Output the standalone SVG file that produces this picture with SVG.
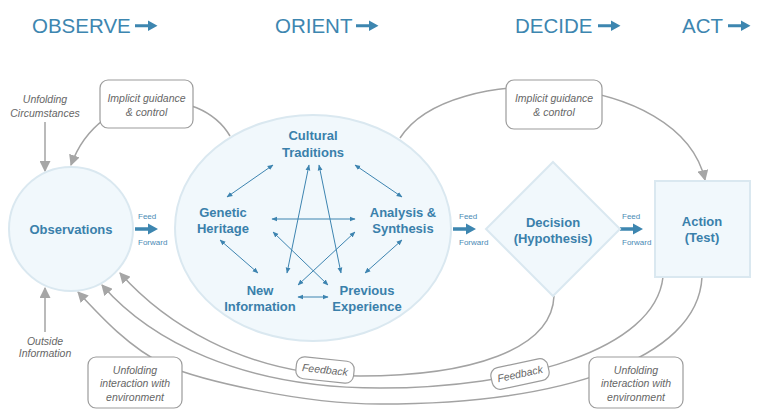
<svg xmlns="http://www.w3.org/2000/svg" width="760" height="412" viewBox="0 0 760 412">
<style>
.hdr{font-family:"Liberation Sans",Arial,sans-serif;font-size:20.5px;fill:#3d86b0;}
.node{font-family:"Liberation Sans",Arial,sans-serif;font-size:13px;font-weight:bold;fill:#3a80ab;text-anchor:middle;}
.lbl{font-family:"Liberation Sans",Arial,sans-serif;font-size:10.5px;font-style:italic;fill:#666;text-anchor:middle;}
.ff{font-family:"Liberation Sans",Arial,sans-serif;font-size:8px;fill:#4a8ab5;}
.shape{fill:#f1f8fc;stroke:#dae8f0;stroke-width:2;}
.gbox{fill:#fff;stroke:#9c9c9c;stroke-width:1.2;}
.gline{fill:none;stroke:#a3a3a3;stroke-width:1.5;}
.bline{fill:none;stroke:#3d84b0;stroke-width:1;}
.barrow{fill:#3d86b0;}
</style>
<defs>
<marker id="ga" viewBox="0 0 10 10" refX="9" refY="5" markerWidth="11" markerHeight="11" markerUnits="userSpaceOnUse" orient="auto">
<path d="M0,0 L10,5 L0,10 z" fill="#a6a6a6"/>
</marker>
<marker id="ba" viewBox="0 0 10 10" refX="9" refY="5" markerWidth="6" markerHeight="6" markerUnits="userSpaceOnUse" orient="auto-start-reverse">
<path d="M0,1 L10,5 L0,9 z" fill="#3d84b0"/>
</marker>
</defs>

<g id="headers">
<text class="hdr" x="32" y="33">OBSERVE</text>
<path class="barrow" d="M135,24.3 H148 V20.5 L157.5,25.7 L148,31 V27.2 H135 z"/>
<text class="hdr" x="275" y="33">ORIENT</text>
<path class="barrow" d="M356,24.3 H369 V20.5 L378.5,25.7 L369,31 V27.2 H356 z"/>
<text class="hdr" x="515" y="33">DECIDE</text>
<path class="barrow" d="M598,24.3 H611 V20.5 L620.5,25.7 L611,31 V27.2 H598 z"/>
<text class="hdr" x="682" y="33">ACT</text>
<path class="barrow" d="M728,24.3 H741 V20.5 L750.5,25.7 L741,31 V27.2 H728 z"/>
</g>

<g id="connectors">
<path class="gline" d="M230,136 C200,85 100,85 71,165" marker-end="url(#ga)"/>
<path class="gline" d="M400,138 C450,60 680,70 705,180" marker-end="url(#ga)"/>
<path class="gline" d="M45,122 L45,171" marker-end="url(#ga)"/>
<path class="gline" d="M45,332 L45,288" marker-end="url(#ga)"/>
<path class="gline" d="M554,296 C552,350 470,376 360,376 C240,376 160,318 120,273" marker-end="url(#ga)"/>
<path class="gline" d="M663,277 C655,350 520,388 380,388 C240,388 150,340 102,285" marker-end="url(#ga)"/>
<path class="gline" d="M702,277 C698,360 560,404 380,404 C300,404 200,380 165,365 C130,348 102,318 78,292" marker-end="url(#ga)"/>
<path class="barrow" d="M135,227.3 H148 V223.5 L158,229 L148,234.5 V230.7 H135 z"/>
<path class="barrow" d="M453,227.3 H466 V223.5 L476,229 L466,234.5 V230.7 H453 z"/>
<path class="barrow" d="M620,227.3 H633 V223.5 L643,229 L633,234.5 V230.7 H620 z"/>
</g>

<g id="observations">
<circle class="shape" cx="71" cy="229" r="62"/>
<text class="node" x="71" y="233.5">Observations</text>
</g>

<g id="orient">
<ellipse class="shape" cx="313" cy="228" rx="138" ry="113"/>
</g>

<g id="orient-links">
<line class="bline" x1="273" y1="165" x2="227" y2="197" marker-start="url(#ba)" marker-end="url(#ba)"/>
<line class="bline" x1="355" y1="165" x2="402" y2="197" marker-start="url(#ba)" marker-end="url(#ba)"/>
<line class="bline" x1="272" y1="219" x2="355" y2="219" marker-start="url(#ba)" marker-end="url(#ba)"/>
<line class="bline" x1="220" y1="240" x2="258" y2="273" marker-start="url(#ba)" marker-end="url(#ba)"/>
<line class="bline" x1="402" y1="240" x2="365" y2="273" marker-start="url(#ba)" marker-end="url(#ba)"/>
<line class="bline" x1="298" y1="297" x2="328" y2="297" marker-start="url(#ba)" marker-end="url(#ba)"/>
<line class="bline" x1="309" y1="165" x2="287" y2="273" marker-start="url(#ba)" marker-end="url(#ba)"/>
<line class="bline" x1="319" y1="165" x2="341" y2="273" marker-start="url(#ba)" marker-end="url(#ba)"/>
<line class="bline" x1="273" y1="232" x2="328" y2="285" marker-start="url(#ba)" marker-end="url(#ba)"/>
<line class="bline" x1="355" y1="232" x2="298" y2="285" marker-start="url(#ba)" marker-end="url(#ba)"/>
</g>

<g id="cultural-traditions">
<text class="node" x="313" y="140">Cultural</text>
<text class="node" x="313" y="157">Traditions</text>
</g>
<g id="genetic-heritage">
<text class="node" x="223" y="217">Genetic</text>
<text class="node" x="223" y="233">Heritage</text>
</g>
<g id="analysis-synthesis">
<text class="node" x="403" y="217">Analysis &amp;</text>
<text class="node" x="403" y="233">Synthesis</text>
</g>
<g id="new-information">
<text class="node" x="260" y="295">New</text>
<text class="node" x="260" y="311">Information</text>
</g>
<g id="previous-experience">
<text class="node" x="367" y="295">Previous</text>
<text class="node" x="367" y="311">Experience</text>
</g>

<g id="decision">
<path class="shape" d="M553,162 L620,229 L553,296 L486,229 z"/>
<text class="node" x="553" y="227">Decision</text>
<text class="node" x="553" y="243">(Hypothesis)</text>
</g>

<g id="action">
<rect class="shape" x="655" y="181" width="95" height="96"/>
<text class="node" x="702" y="226">Action</text>
<text class="node" x="702" y="242">(Test)</text>
</g>

<g id="feed-labels">
<text class="ff" x="138" y="219">Feed</text>
<text class="ff" x="138" y="245">Forward</text>
<text class="ff" x="459" y="219">Feed</text>
<text class="ff" x="459" y="245">Forward</text>
<text class="ff" x="622" y="219">Feed</text>
<text class="ff" x="622" y="245">Forward</text>
</g>

<g id="implicit-guidance-left">
<rect class="gbox" x="100" y="80" width="93" height="48" rx="8"/>
<text class="lbl" x="146.5" y="102">Implicit guidance</text>
<text class="lbl" x="146.5" y="116">&amp; control</text>
</g>
<g id="implicit-guidance-right">
<rect class="gbox" x="506" y="80" width="96" height="49" rx="8"/>
<text class="lbl" x="554" y="102">Implicit guidance</text>
<text class="lbl" x="554" y="116">&amp; control</text>
</g>
<g id="unfolding-circumstances">
<text class="lbl" x="45" y="103">Unfolding</text>
<text class="lbl" x="45" y="117">Circumstances</text>
</g>
<g id="outside-information">
<text class="lbl" x="45" y="345">Outside</text>
<text class="lbl" x="45" y="357">Information</text>
</g>
<g id="feedback-1" transform="rotate(6 325 370)">
<rect class="gbox" x="296" y="359" width="58" height="22" rx="8"/>
<text class="lbl" x="325" y="373.5">Feedback</text>
</g>
<g id="feedback-2" transform="rotate(-12 520 374)">
<rect class="gbox" x="491" y="363" width="58" height="22" rx="8"/>
<text class="lbl" x="520" y="377.5">Feedback</text>
</g>
<g id="unfolding-interaction-left">
<rect class="gbox" x="88" y="357" width="94" height="51" rx="8"/>
<text class="lbl" x="135" y="374">Unfolding</text>
<text class="lbl" x="135" y="387">interaction with</text>
<text class="lbl" x="135" y="401">environment</text>
</g>
<g id="unfolding-interaction-right">
<rect class="gbox" x="589" y="357" width="94" height="51" rx="8"/>
<text class="lbl" x="636" y="374">Unfolding</text>
<text class="lbl" x="636" y="387">interaction with</text>
<text class="lbl" x="636" y="401">environment</text>
</g>
</svg>
